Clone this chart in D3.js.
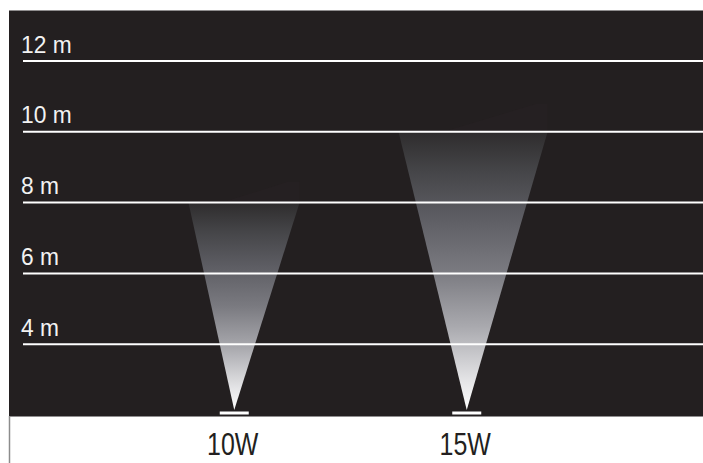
<!DOCTYPE html>
<html>
<head>
<meta charset="utf-8">
<script src="https://cdn.jsdelivr.net/npm/d3@7"></script>
<style>
    body { margin: 0; background: #fff; }
    svg { display: block; }
</style>
</head>
<body>
<svg id="chart" width="703" height="463"></svg>
<script>

// fixtures and how far their beam reaches (m)
var fixtures = ['10W', '15W'];
var reach = [8, 10];
var beamAngle = [30, 30];   // degrees, full cone
var tilt = [2.7, 1.3];      // degrees, beam leans slightly right

// distance grid
var levels = [4, 6, 8, 10, 12];
var levelLabels = ['4 m', '6 m', '8 m', '10 m', '12 m'];

const bg = '#231f20';
const baseY = 410;

var svg = d3.select('#chart');

var x = d3.scaleBand()
    .domain(fixtures)
    .range([118, 583]);

var y = d3.scaleLinear()
    .domain([4, 12])
    .range([344.2, 61]);

function cx (d) {
    return x(d) + x.bandwidth() / 2;
}

// panel
svg.append('rect')
    .attr('x', 9)
    .attr('y', 10.5)
    .attr('width', 694)
    .attr('height', 406)
    .attr('fill', bg);

svg.append('line')
    .attr('x1', 9.5).attr('x2', 9.5)
    .attr('y1', 416).attr('y2', 463)
    .attr('stroke', '#8c8c8c')
    .attr('stroke-width', 1.5);

var defs = svg.append('defs');

// beams
fixtures.forEach(function (f, i) {
    var x0 = cx(f);
    var yTop = y(reach[i]);
    var h = baseY - yTop;
    var half = h * Math.tan(beamAngle[i] / 2 * Math.PI / 180);
    var shift = h * Math.tan(tilt[i] * Math.PI / 180);
    var xl = x0 + shift - half;
    var xr = x0 + shift + half;

    var grad = defs.append('linearGradient')
        .attr('id', 'beam' + i)
        .attr('gradientUnits', 'userSpaceOnUse')
        .attr('x1', x0).attr('y1', baseY)
        .attr('x2', x0).attr('y2', yTop);

    [[0, '#ffffff'], [0.1, '#e6e6e8'], [0.3, '#a9a9ae'], [0.5, '#7a7a80'],
        [0.7, '#5c5c62'], [0.86, '#454548'], [1, '#2e2c2d']].forEach(function (s) {
        grad.append('stop').attr('offset', s[0]).attr('stop-color', s[1]);
    });

    // faint glow just past the end of the beam
    svg.append('path')
        .attr('d', 'M' + (xl + half * 0.6) + ',' + yTop + 'L' + (xr - 12) + ',' + (yTop - h * 0.1) +
            'L' + xr + ',' + (yTop - h * 0.1) + 'L' + xr + ',' + yTop + 'Z')
        .attr('fill', '#3a2a2e')
        .attr('opacity', 0.12);

    svg.append('path')
        .attr('d', 'M' + x0 + ',' + baseY + 'L' + xl + ',' + yTop +
            'L' + xr + ',' + yTop + 'Z')
        .attr('fill', 'url(#beam' + i + ')');

    // fixture base
    svg.append('rect')
        .attr('x', x0 - 14.5)
        .attr('y', 411.5)
        .attr('width', 29)
        .attr('height', 3)
        .attr('fill', '#ffffff');
});

// grid lines and labels
var grid = svg.append('g').attr('id', 'grid');

grid.selectAll('line')
    .data(levels)
    .enter().append('line')
    .attr('x1', 23)
    .attr('x2', 703)
    .attr('y1', function (d) { return y(d); })
    .attr('y2', function (d) { return y(d); })
    .attr('stroke', '#ffffff')
    .attr('stroke-width', 2);

grid.selectAll('text')
    .data(levels)
    .enter().append('text')
    .attr('transform', function (d) { return 'translate(21,' + (y(d) - 8.5) + ') scale(0.95,1)'; })
    .style('font-family', '"Liberation Sans", Arial, sans-serif')
    .style('font-size', '24px')
    .attr('fill', '#f2f2f2')
    .text(function (d, i) { return levelLabels[i]; });

// fixture names under the panel (condensed look)
svg.selectAll('.fixture')
    .data(fixtures)
    .enter().append('text')
    .attr('class', 'fixture')
    .attr('transform', function (d) { return 'translate(' + (cx(d) - 1.5) + ',455) scale(0.78,1)'; })
    .attr('text-anchor', 'middle')
    .style('font-family', '"Liberation Sans", Arial, sans-serif')
    .style('font-size', '32px')
    .attr('fill', bg)
    .text(function (d) { return d; });

</script>
</body>
</html>
